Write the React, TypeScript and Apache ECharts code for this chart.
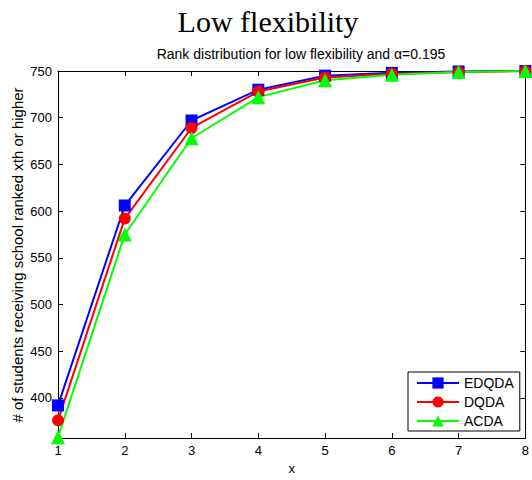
import React, { useEffect, useRef } from "react";
import * as echarts from "echarts";

const xValues = [1, 2, 3, 4, 5, 6, 7, 8];
const edqda = [392, 606, 697, 730, 745, 748, 749.5, 750];
const dqda = [376, 592, 689, 728, 743, 747, 749, 750];
const acda = [358, 575, 678, 722, 740, 746, 749, 750];
const yTicks = [400, 450, 500, 550, 600, 650, 700, 750];

const FONT = "'Liberation Sans', Arial, sans-serif";

export default function App() {
  const ref = useRef<HTMLDivElement>(null);
  useEffect(() => {
    if (!ref.current) return;
    const chart = echarts.init(ref.current, null, { renderer: "svg" });
    const pairs = (ys: number[]) => xValues.map((x, i) => [x, ys[i]]);
    const axisLine = { show: true, lineStyle: { color: "#000", width: 1 } };
    const mk = (name: string, ys: number[], color: string, symbol: string, size: number) => ({
      name,
      type: "line",
      data: pairs(ys),
      clip: false,
      symbol,
      symbolSize: size,
      lineStyle: { color, width: 2 },
      itemStyle: { color },
      xAxisIndex: 0,
      yAxisIndex: 0,
    });
    chart.setOption({
      animation: false,
      backgroundColor: "#fff",
      textStyle: { fontFamily: FONT },
      grid: { left: 58, right: 4, top: 71, bottom: 40, containLabel: false },
      graphic: [
        {
          type: "text",
          x: 268,
          y: 6,
          style: {
            text: "Low flexibility",
            fontSize: 30,
            fontFamily: "'Liberation Serif', 'Times New Roman', serif",
            fill: "#000",
            textAlign: "center",
          },
        },
        {
          type: "text",
          x: 301,
          y: 47,
          style: {
            text: "Rank distribution for low flexibility and α=0.195",
            fontSize: 14,
            fontFamily: FONT,
            fill: "#000",
            textAlign: "center",
          },
        },
        {
          type: "text",
          x: 17,
          y: 255,
          rotation: Math.PI / 2,
          style: {
            text: "# of students receiving school ranked xth or higher",
            fontSize: 15,
            fontFamily: FONT,
            fill: "#000",
            align: "center",
            verticalAlign: "middle",
          },
        },
      ],
      legend: {
        orient: "vertical",
        left: 408,
        top: 372,
        padding: [4, 6, 3, 8],
        itemWidth: 42,
        itemHeight: 14,
        itemGap: 5,
        itemTextGap: 6,
        borderColor: "#000",
        borderWidth: 1,
        backgroundColor: "#fff",
        textStyle: { fontSize: 14, color: "#000", fontFamily: FONT },
        data: ["EDQDA", "DQDA", "ACDA"],
      },
      xAxis: [
        {
          type: "value",
          min: 1,
          max: 8,
          interval: 1,
          name: "x",
          nameLocation: "middle",
          nameGap: 23,
          nameTextStyle: { fontSize: 13, color: "#000", fontFamily: FONT },
          axisLine,
          axisTick: { show: true, inside: true, length: 5, lineStyle: { color: "#000" } },
          axisLabel: { fontSize: 13, color: "#000", margin: 6, fontFamily: FONT },
          splitLine: { show: false },
        },
        {
          type: "value",
          position: "top",
          min: 1,
          max: 8,
          interval: 1,
          axisLine,
          axisTick: { show: true, inside: true, length: 5, lineStyle: { color: "#000" } },
          axisLabel: { show: false },
          splitLine: { show: false },
        },
      ],
      yAxis: [
        {
          type: "value",
          min: 357,
          max: 750,
          axisLine,
          axisTick: { show: true, inside: true, length: 5, customValues: yTicks, lineStyle: { color: "#000" } },
          axisLabel: { fontSize: 13, color: "#000", margin: 6, customValues: yTicks, fontFamily: FONT },
          splitLine: { show: false },
        },
        {
          type: "value",
          position: "right",
          min: 357,
          max: 750,
          axisLine,
          axisTick: { show: true, inside: true, length: 5, customValues: yTicks, lineStyle: { color: "#000" } },
          axisLabel: { show: false, customValues: yTicks },
          splitLine: { show: false },
        },
      ],
      series: [
        mk("EDQDA", edqda, "#0000ff", "rect", 12),
        mk("DQDA", dqda, "#ff0000", "circle", 12),
        mk("ACDA", acda, "#00ff00", "triangle", 14),
      ],
    });
    return () => chart.dispose();
  }, []);
  return (
    <div
      ref={ref}
      style={{ position: "fixed", left: 0, top: 0, width: 532, height: 480 }}
    />
  );
}
